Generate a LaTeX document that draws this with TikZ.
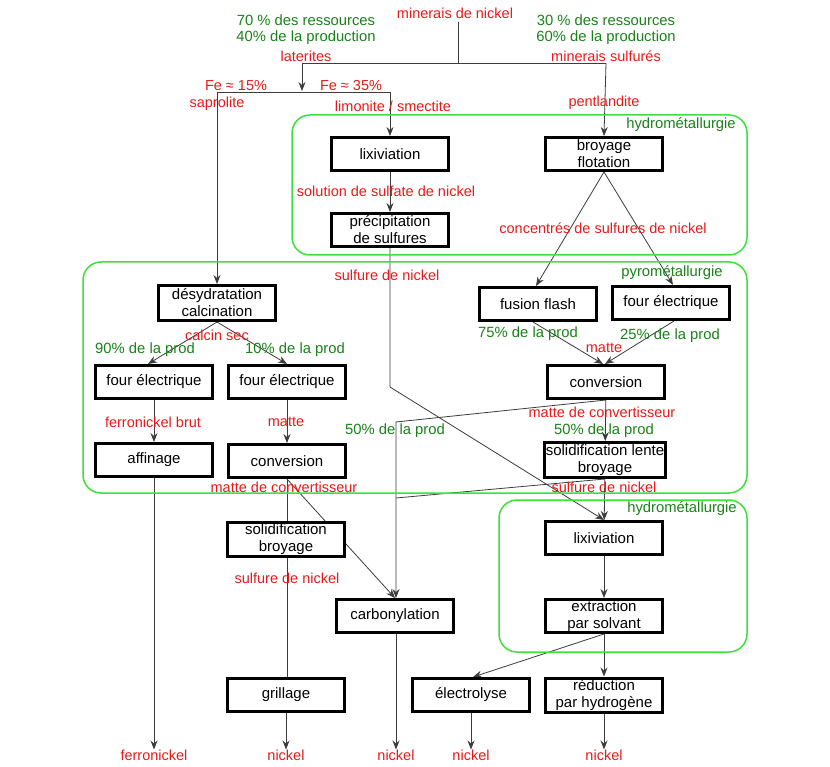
\documentclass[tikz,border=0pt]{standalone}
\usepackage{fontspec}
\setmainfont{Liberation Sans}
\usetikzlibrary{arrows.meta,backgrounds}
\definecolor{lblred}{RGB}{235,25,25}
\definecolor{lblgreen}{RGB}{25,130,25}
\definecolor{zonegreen}{RGB}{60,225,60}
\definecolor{conncol}{RGB}{60,60,60}
\begin{document}
\begin{tikzpicture}[x=1pt,y=-1pt,
  box/.style={draw=black,line width=3pt,fill=white,minimum width=117pt,minimum height=33pt,inner sep=1pt,align=center,font=\fontsize{15}{17}\selectfont},
  lred/.style={text=lblred,inner sep=0pt,font=\fontsize{14.5}{17}\selectfont,align=center},
  lgreen/.style={text=lblgreen,inner sep=0pt,font=\fontsize{14.8}{17}\selectfont,align=center},
  zone/.style={draw=zonegreen,line width=1.5pt,rounded corners=18pt},
  conn/.style={draw=conncol,line width=0.8pt},
  arr/.style={conn,-{Stealth[length=9pt,width=7pt,inset=3pt]}},
]
\useasboundingbox (0,0) rectangle (830,767);

% zones
\draw[zone] (292,115) rectangle (747,255);
\draw[zone] (83,262) rectangle (747,493);
\draw[zone] (499,500) rectangle (747,652);

% top labels
\node[lred] (mn) at (455,13) {minerais de nickel};
\node[lgreen] (latA) at (306,20) {70 \% des ressources};
\node[lgreen] (latB) at (306,38) {40\% de la production};
\node[lred] (latC) at (306,56) {laterites};
\node[lgreen] (sulA) at (606,20) {30 \% des ressources};
\node[lgreen] (sulB) at (606,38) {60\% de la production};
\node[lred] (sulC) at (606,56) {minerais sulfurés};
\node[lred] (fe15) at (236,86) {Fe ≈ 15\%};
\node[lred] (fe35) at (351,86) {Fe ≈ 35\%};
\node[lred] (sapr) at (217,104) {saprolite};
\node[lred] (limo) at (393,106) {limonite / smectite};
\node[lred] (pent) at (604,103) {pentlandite};
\node[lgreen] (hyd1) at (681,125) {hydrométallurgie};
\node[lgreen] (pyro) at (672,273) {pyrométallurgie};
\node[lgreen] (hyd2) at (682,509) {hydrométallurgie};

% boxes
\node[box] (lix1) at (390,154) {lixiviation};
\node[box] (broy) at (604,154) {broyage\\flotation};
\node[box] (prec) at (390,230) {précipitation\\de sulfures};
\node[box,minimum height=35pt] (desy) at (217,303) {désydratation\\calcination};
\node[box] (flash) at (538,304) {fusion flash};
\node[box] (fourR) at (671,303) {four électrique};
\node[box] (fourA) at (154,382) {four électrique};
\node[box] (fourB) at (287,382) {four électrique};
\node[box] (convR) at (606,382) {conversion};
\node[box] (aff) at (154,460) {affinage};
\node[box] (convL) at (287,461) {conversion};
\node[box,minimum height=35pt] (solR) at (605,460) {solidification lente\\broyage};
\node[box,minimum height=34pt] (solL) at (286,539) {solidification\\broyage};
\node[box] (lix2) at (604,538) {lixiviation};
\node[box] (extr) at (604,616) {extraction\\par solvant};
\node[box] (carb) at (395,616) {carbonylation};
\node[box] (gril) at (286,695) {grillage};
\node[box] (elec) at (471,695) {électrolyse};
\node[box,minimum height=34pt] (redu) at (604,695) {réduction\\par hydrogène};

% connector labels
\node[lred] (solsulf) at (386,191) {solution de sulfate de nickel};
\node[lred] (conc) at (603,228) {concentrés de sulfures de nickel};
\node[lred] (sulf1) at (387,275) {sulfure de nickel};
\node[lred] (calc) at (217,335) {calcin sec};
\node[lgreen] (p90) at (145,350) {90\% de la prod};
\node[lgreen] (p10) at (295,350) {10\% de la prod};
\node[lgreen] (p75) at (528,334) {75\% de la prod};
\node[lgreen] (p25) at (670,336) {25\% de la prod};
\node[lred] (matR) at (604,348) {matte};
\node[lred] (fnb) at (153,422) {ferronickel brut};
\node[lred] (matL) at (286,422) {matte};
\node[lred] (mcR) at (602,412) {matte de convertisseur};
\node[lgreen] (p50R) at (604,431) {50\% de la prod};
\node[lgreen] (p50L) at (395,431) {50\% de la prod};
\node[lred] (mcL) at (284,487) {matte de convertisseur};
\node[lred] (sulf2) at (604,487) {sulfure de nickel};
\node[lred] (sulf3) at (287,578) {sulfure de nickel};

% bottom products
\node[lred] (b1) at (154,755) {ferronickel};
\node[lred] (b2) at (286,755) {nickel};
\node[lred] (b3) at (396,755) {nickel};
\node[lred] (b4) at (471,755) {nickel};
\node[lred] (b5) at (604,755) {nickel};

% junction points
\coordinate (j00) at (458,22);
\coordinate (j0) at (458,63);
\coordinate (jL) at (302,63);
\coordinate (jR) at (606,63);
\coordinate (jL2) at (302,91);
\coordinate (sL) at (217,92);
\coordinate (sR) at (390,92);
\coordinate (k1) at (390,387);
\coordinate (m1) at (396,422);
\coordinate (m2) at (396,498);

\begin{scope}[on background layer]
\fill[white] (0,0) rectangle (830,767);
\draw[conn] (j00) -- (j0);
\draw[conn] (jL) -- (jR);
\draw[arr] (jL) -- (jL2);
\draw[conn] (sL) -- (sR);
\draw[arr] (sL) -- (desy.north);
\draw[arr] (sR) -- (lix1.north);
\draw[arr] (jR) -- (broy.north);
\draw[arr] (lix1) -- (prec);
\draw[arr] (broy.south) -- ([xshift=-2pt]flash.north);
\draw[arr] (broy.south) -- ([xshift=2pt]fourR.north);
\draw[arr] (prec.south) -- (k1) -- (lix2.north);
\draw[arr] (desy.south) -- ([xshift=-6pt]fourA.north);
\draw[arr] (desy.south) -- (fourB.north);
\draw[arr] (fourA) -- (aff);
\draw[arr] (fourB) -- (convL);
\draw[arr] ([xshift=-5pt]flash.south) -- ([xshift=-3pt]convR.north);
\draw[arr] ([xshift=3pt]fourR.south) -- ([xshift=-1pt]convR.north);
\draw[arr] (convR) -- (solR);
\draw[arr] (convR.south) -- (m1) -- (carb.north -| m1);
\draw[conn] (solR.south) -- (m2);
\draw[arr] (solR) -- (lix2);
\draw[arr] (lix2) -- (extr);
\draw[arr] (extr) -- (redu);
\draw[arr] (extr.south) -- ([xshift=2pt]elec.north);
\draw[conn] (convL.south) -- (gril.north -| convL.south);
\draw[arr] (convL.south) -- (carb.north);
\draw[arr] (aff.south) -- (b1.north);
\draw[arr] (gril.south) -- (b2.north);
\draw[arr] (carb.south -| b3) -- (b3.north);
\draw[arr] (elec.south) -- (b4.north);
\draw[arr] (redu.south) -- (b5.north);
\end{scope}
\end{tikzpicture}
\end{document}
